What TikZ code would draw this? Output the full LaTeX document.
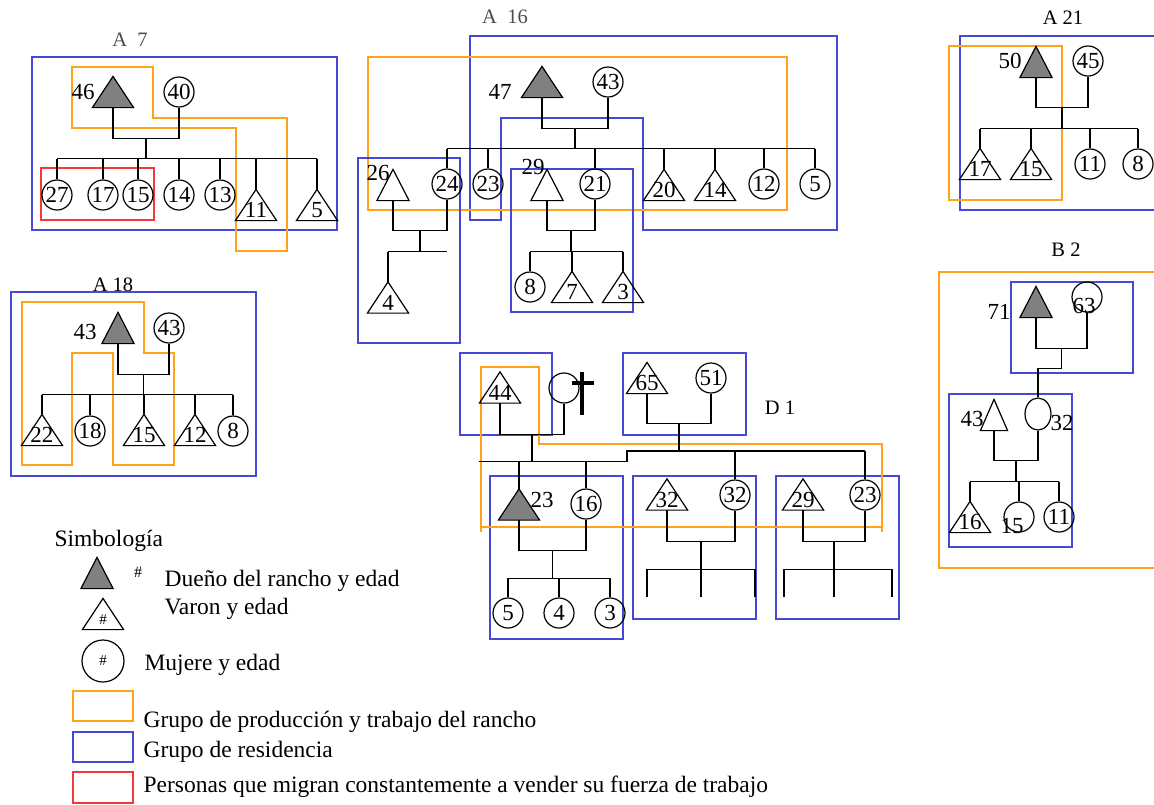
\documentclass[tikz,border=0pt]{standalone}
\usepackage{fontspec}
\setmainfont{Liberation Serif}
\usetikzlibrary{shapes.geometric,calc}
\definecolor{naranja}{RGB}{255,163,26}
\definecolor{azul}{RGB}{72,72,214}
\definecolor{rojo}{RGB}{245,55,55}
\definecolor{gris}{RGB}{128,128,128}
\begin{document}
\begin{tikzpicture}[x=1pt,y=-1pt,line width=1.2pt,
    num/.style={font=\fontsize{23}{24}\selectfont,inner sep=0pt},
    tri/.style={num,minimum width=40pt,minimum height=30pt,text height=25pt,text depth=0pt,
      append after command={\pgfextra{\draw[fill=#1] (\tikzlastnode.south west) -- (\tikzlastnode.north) -- (\tikzlastnode.south east) -- cycle;}}},
    dueno/.style={tri=gris},
    varon/.style={tri=none},
    mujer/.style={num,circle,draw,minimum size=30pt},
    grp/.style={font=\fontsize{20.5}{22}\selectfont,inner sep=0pt},
    leg/.style={font=\fontsize{23.5}{26}\selectfont,inner sep=0pt},
    res/.style={draw=azul,line width=1.3pt},
    prod/.style={draw=naranja,line width=1.3pt},
    mig/.style={draw=rojo,line width=1.3pt}]
    \useasboundingbox (0,0) rectangle (1154,804);

    % A 7
    \node[grp,text=black!70] (tA7) at (130,40) {A\ \ 7};
    \draw[res] (32,57) rectangle (337,230);
    \draw[prod] (72,67) -- (153,67) -- (153,118) -- (287,118) -- (287,251) -- (236,251) -- (236,128) -- (72,128) -- cycle;
    \draw[mig] (41,168) rectangle (154,220);
    \node[dueno] (a7d46) at (113,92) {};
    \node[num] (a7e46) at (83,92) {46};
    \node[mujer] (a7m40) at (179,92) {40};
    \draw (a7d46.south) -- ++(0,31) -| (a7m40.south);
    \draw ($(a7d46.south)!.5!(a7d46.south -| a7m40.south)+(0,31)$) -- ++(0,20) coordinate (a7s);
    \node[mujer] (a7m27) at (57,195) {27};
    \node[mujer] (a7m17) at (103,195) {17};
    \node[mujer] (a7m15) at (138,195) {15};
    \node[mujer] (a7m14) at (179,195) {14};
    \node[mujer] (a7m13) at (220,195) {13};
    \node[varon] (a7v11) at (256,205) {11};
    \node[varon] (a7v5) at (317,205) {5};
    \draw (a7m27.north |- a7s) -- (a7v5.north |- a7s);
    \foreach \h in {a7m27,a7m17,a7m15,a7m14,a7m13,a7v11,a7v5}
        \draw (\h.north |- a7s) -- (\h.north);

    % A 16
    \node[grp,text=black!70] (tA16) at (505,17) {A\ \ 16};
    \draw[res] (470,36) -- (837,36) -- (837,230) -- (643,230) -- (643,118) -- (501,118) -- (501,220) -- (470,220) -- cycle;
    \draw[prod] (368,57) rectangle (787,210);
    \draw[res] (358,158) rectangle (460,343);
    \draw[res] (511,169) rectangle (633,312);
    \node[dueno] (a16d47) at (542,82) {};
    \node[num] (a16e47) at (500,92) {47};
    \node[mujer] (a16m43) at (608,82) {43};
    \draw (a16d47.south) -- ++(0,31) -| (a16m43.south);
    \draw ($(a16d47.south)!.5!(a16d47.south -| a16m43.south)+(0,31)$) -- ++(0,20) coordinate (a16s);
    \node[mujer] (a16m24) at (447,184) {24};
    \node[mujer] (a16m23) at (488,184) {23};
    \node[mujer] (a16m21) at (595,184) {21};
    \node[varon] (a16v20) at (664,185) {20};
    \node[varon] (a16v14) at (715,185) {14};
    \node[mujer] (a16m12) at (764,184) {12};
    \node[mujer] (a16m5) at (815,184) {5};
    \draw (a16m24.north |- a16s) -- (a16m5.north |- a16s);
    \foreach \h in {a16m24,a16m23,a16m21,a16v20,a16v14,a16m12,a16m5}
        \draw (\h.north |- a16s) -- (\h.north);
    \node[varon,minimum width=31pt] (a16v26) at (393,185) {};
    \node[num] (a16e26) at (378,173) {26};
    \draw (a16v26.south) -- ++(0,30) -| (a16m24.south);
    \draw ($(a16v26.south)!.5!(a16v26.south -| a16m24.south)+(0,30)$) -- ++(0,21) coordinate (a16t);
    \node[varon] (a16v4) at (388,297.5) {4};
    \draw (a16v4.north |- a16t) -- (a16m24.south |- a16t);
    \draw (a16v4.north |- a16t) -- (a16v4.north);
    \node[varon,minimum width=31pt] (a16v29) at (547,185) {};
    \node[num] (a16e29) at (533,167) {29};
    \draw (a16v29.south) -- ++(0,30) -| (a16m21.south);
    \draw ($(a16v29.south)!.5!(a16v29.south -| a16m21.south)+(0,30)$) -- ++(0,21) coordinate (a16r);
    \node[mujer] (a16m8) at (530,287) {8};
    \node[varon] (a16v7) at (572,287) {7};
    \node[varon] (a16v3) at (623,287) {3};
    \draw (a16m8.north |- a16r) -- (a16v3.north |- a16r);
    \foreach \h in {a16m8,a16v7,a16v3}
        \draw (\h.north |- a16r) -- (\h.north);

    % A 21
    \node[grp] (tA21) at (1063,18) {A 21};
    \draw[res] (1154,36) -- (960,36) -- (960,210) -- (1154,210);
    \draw[prod] (949,46) rectangle (1062,200);
    \node[dueno,minimum width=31pt] (a21d50) at (1036,62) {};
    \node[num] (a21e50) at (1010,61) {50};
    \node[mujer] (a21m45) at (1088,61) {45};
    \draw (a21d50.south) -- ++(0,30) -| (a21m45.south);
    \draw ($(a21d50.south)!.5!(a21d50.south -| a21m45.south)+(0,30)$) -- ++(0,21) coordinate (a21s);
    \node[varon] (a21v17) at (980,164) {17};
    \node[varon] (a21v15) at (1031,164) {15};
    \node[mujer] (a21m11) at (1090,164) {11};
    \node[mujer] (a21m8) at (1138,164) {8};
    \draw (a21v17.north |- a21s) -- (a21m8.north |- a21s);
    \foreach \h in {a21v17,a21v15,a21m11,a21m8}
        \draw (\h.north |- a21s) -- (\h.north);

    % A 18
    \node[grp] (tA18) at (113,285) {A 18};
    \draw[res] (11,292) rectangle (256,476);
    \draw[prod] (22,302) -- (144,302) -- (144,353) -- (174,353) -- (174,465) -- (113,465) -- (113,353) -- (72,353) -- (72,465) -- (22,465) -- cycle;
    \node[dueno,minimum width=31pt] (a18d43) at (118,328) {};
    \node[num] (a18e43) at (85,332) {43};
    \node[mujer] (a18m43) at (169,328) {43};
    \draw (a18d43.south) -- ++(0,31) -| (a18m43.south);
    \draw ($(a18d43.south)!.5!(a18d43.south -| a18m43.south)+(0,31)$) -- ++(0,20) coordinate (a18s);
    \node[varon] (a18v22) at (42,430) {22};
    \node[mujer] (a18m18) at (90,431) {18};
    \node[varon] (a18v15) at (144,430) {15};
    \node[varon] (a18v12) at (195,430) {12};
    \node[mujer] (a18m8) at (233,431) {8};
    \draw (a18v22.north |- a18s) -- (a18m8.north |- a18s);
    \foreach \h in {a18v22,a18m18,a18v15,a18v12,a18m8}
        \draw (\h.north |- a18s) -- (\h.north);

    % D 1
    \draw[res] (460,353) rectangle (552,435);
    \draw[res] (623,353) rectangle (746,435);
    \draw[res] (490,476) rectangle (623,639);
    \draw[res] (633,476) rectangle (756,619);
    \draw[res] (776,476) rectangle (899,619);
    \draw[prod] (481,532) -- (481,367) -- (539,367) -- (539,444) -- (882,444) -- (882,532);
    \draw[prod] (481,527) -- (882,527);
    \node[grp] (tD1) at (780,408) {D 1};
    \node[varon] (d1v44) at (500,387.5) {44};
    \node[mujer] (d1mx) at (564,388) {};
    \draw[line width=3.5pt] (582,372) -- (582,415) (572,383) -- (594,383);
    \draw (d1v44.south) -- ++(0,31) -| (d1mx.south);
    \draw ($(d1v44.south)!.5!(d1v44.south -| d1mx.south)+(0,31)$) -- ++(0,27) coordinate (d1s);
    \node[varon] (d1v65) at (647,378) {65};
    \node[mujer] (d1m51) at (711,378) {51};
    \draw (d1v65.south) -- ++(0,30) -| (d1m51.south);
    \coordinate (d1k) at (627,451);
    \draw ($(d1v65.south)!.5!(d1v65.south -| d1m51.south)+(0,30)$) coordinate (d1p) -- (d1p |- d1k);
    \node[dueno] (d1d23) at (519,504.5) {};
    \node[num] (d1e23) at (542,500) {23};
    \node[mujer] (d1m16) at (586,504) {16};
    \node[varon] (d1v32) at (667,494.5) {32};
    \node[mujer] (d1m32) at (735,495) {32};
    \node[varon] (d1v29) at (803,494.5) {29};
    \node[mujer] (d1m23) at (865,495) {23};
    \draw (d1v44.south west |- d1s) -| (d1k) -- (d1m23.north |- d1k);
    \foreach \h in {d1d23,d1m16}
        \draw (\h.north |- d1s) -- (\h.north);
    \foreach \h in {d1m32,d1m23}
        \draw (\h.north |- d1k) -- (\h.north);
    \draw (d1d23.south) -- ++(0,30) -| (d1m16.south);
    \draw ($(d1d23.south)!.5!(d1d23.south -| d1m16.south)+(0,30)$) -- ++(0,28) coordinate (d1c);
    \node[mujer] (d1m5) at (508,613) {5};
    \node[mujer] (d1m4) at (559,613) {4};
    \node[mujer] (d1m3) at (610,613) {3};
    \draw (d1m5.north |- d1c) -- (d1m3.north |- d1c);
    \foreach \h in {d1m5,d1m4,d1m3}
        \draw (\h.north |- d1c) -- (\h.north);
    \draw (d1v32.south) -- ++(0,31) -| (d1m32.south);
    \draw ($(d1v32.south)!.5!(d1v32.south -| d1m32.south)+(0,31)$) coordinate (d1a) -- ++(0,28) coordinate (d1a0);
    \coordinate (d1a1) at (647,597);
    \coordinate (d1a2) at (755,597);
    \draw (d1a1) -- (d1a1 |- d1a0) -- (d1a2 |- d1a0) -- (d1a2) (d1a0) -- (d1a0 |- d1a1);
    \draw (d1v29.south) -- ++(0,31) -| (d1m23.south);
    \draw ($(d1v29.south)!.5!(d1v29.south -| d1m23.south)+(0,31)$) coordinate (d1b) -- ++(0,28) coordinate (d1b0);
    \coordinate (d1b1) at (784,597);
    \coordinate (d1b2) at (892,597);
    \draw (d1b1) -- (d1b1 |- d1b0) -- (d1b2 |- d1b0) -- (d1b2) (d1b0) -- (d1b0 |- d1b1);

    % B 2
    \node[grp] (tB2) at (1066,250) {B 2};
    \draw[prod] (1154,272) -- (939,272) -- (939,568) -- (1154,568);
    \draw[res] (1011,282) rectangle (1133,373);
    \draw[res] (949,394) rectangle (1072,547);
    \node[dueno,minimum width=31pt] (b2d71) at (1036,302) {};
    \node[num] (b2e71) at (999,312) {71};
    \node[mujer] (b2m63) at (1087,297) {};
    \node[num] (b2e63) at (1084,306) {63};
    \draw (b2d71.south) -- ++(0,31) -| (b2m63.south);
    \node[draw,ellipse,minimum width=26pt,minimum height=32pt,inner sep=0pt] (b2m32) at (1038,414) {};
    \node[num] (b2e32) at (1062,423) {32};
    \draw ($(b2d71.south)!.5!(b2d71.south -| b2m63.south)+(0,31)$) -- ++(0,20) -| (b2m32.north);
    \node[varon,minimum width=26pt] (b2v43) at (994,415) {};
    \node[num] (b2e43) at (972,419) {43};
    \draw (b2v43.south) -- ++(0,30) -| (b2m32.south);
    \draw ($(b2v43.south)!.5!(b2v43.south -| b2m32.south)+(0,30)$) -- ++(0,21) coordinate (b2s);
    \node[varon] (b2v16) at (970,517) {16};
    \node[mujer] (b2m15) at (1019,517) {};
    \node[num] (b2e15) at (1012,526) {15};
    \node[mujer] (b2m11) at (1059,517) {11};
    \draw (b2v16.north |- b2s) -- (b2m11.north |- b2s);
    \foreach \h in {b2v16,b2m15,b2m11}
        \draw (\h.north |- b2s) -- (\h.north);

    % Simbologia
    \node[leg,anchor=base west] (simb) at (54,546) {Simbología};
    \node[dueno,minimum width=31pt] (ld) at (97,573) {};
    \node[font=\fontsize{16}{16}\selectfont,anchor=base,inner sep=0pt] (lh) at (138,577) {\#};
    \node[leg,anchor=base west] (ltd) at (164,586) {Dueño del rancho y edad};
    \node[varon,font=\fontsize{15}{16}\selectfont,text height=20pt] (lv) at (103,614) {\#};
    \node[leg,anchor=base west] (ltv) at (164,614) {Varon y edad};
    \node[mujer,minimum size=42pt,font=\fontsize{15}{16}\selectfont] (lm) at (103,661) {\#};
    \node[leg,anchor=base west] (ltm) at (144,670) {Mujere y edad};
    \draw[prod] (73,691) rectangle (133,721);
    \node[leg,anchor=base west] (ltp) at (143,727) {Grupo de producción y trabajo del rancho};
    \draw[res] (73,732) rectangle (133,762);
    \node[leg,anchor=base west] (ltr) at (143,757) {Grupo de residencia};
    \draw[mig] (73,772) rectangle (133,803);
    \node[leg,anchor=base west] (ltg) at (143,792) {Personas que migran constantemente a vender su fuerza de trabajo};
\end{tikzpicture}
\end{document}
